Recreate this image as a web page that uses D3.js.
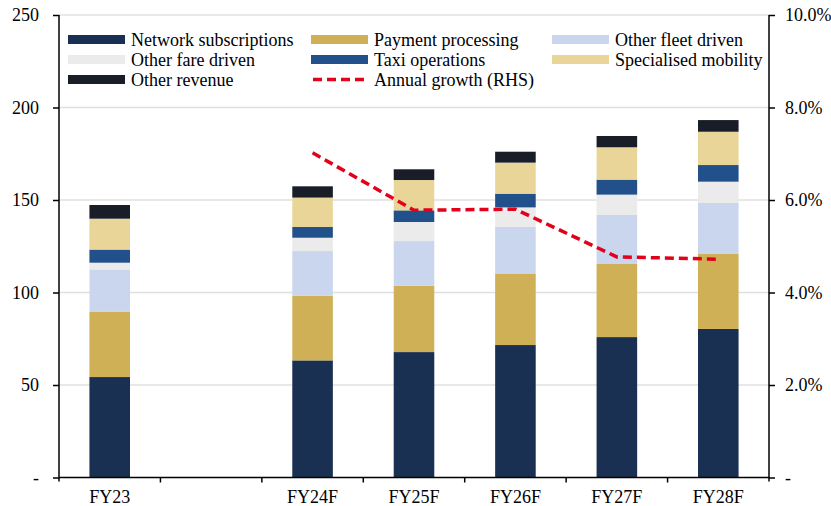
<!DOCTYPE html>
<html>
<head>
<meta charset="utf-8">
<script src="https://cdn.jsdelivr.net/npm/d3@7"></script>
<style>
  html, body { margin: 0; padding: 0; background: #ffffff; }
  svg { display: block; }
  svg text { font-family: "Liberation Serif", "Times New Roman", serif; }
</style>
</head>
<body>
<svg id="chart" width="831" height="506"></svg>
<script>
// ---- Data ----
const categories = ["FY23", " ", "FY24F", "FY25F", "FY26F", "FY27F", "FY28F"];
const seriesNames = ["Network subscriptions", "Payment processing", "Other fleet driven",
                     "Other fare driven", "Taxi operations", "Specialised mobility", "Other revenue"];
const networkSubscriptions = [54.3, null, 63.3, 67.8, 71.6, 75.9, 80.3];
const paymentProcessing    = [35.2, null, 35.0, 35.9, 38.4, 39.5, 40.5];
const otherFleetDriven     = [23.0, null, 24.1, 24.1, 25.4, 26.5, 27.6];
const otherFareDriven      = [3.6,  null, 7.2,  10.3, 10.6, 11.0, 11.5];
const taxiOperations       = [7.1,  null, 5.8,  6.3,  7.4,  8.1,  9.0];
const specialisedMobility  = [16.7, null, 15.9, 16.4, 16.8, 17.5, 18.0];
const otherRevenue         = [7.4,  null, 6.1,  5.8,  5.9,  6.1,  6.3];
const growthName = "Annual growth (RHS)";
const annualGrowth         = [null, null, 7.02, 5.78, 5.80, 4.77, 4.72]; // % (RHS)
const leftTicks  = [0, 50, 100, 150, 200, 250];
const rightTicks = [0, 2, 4, 6, 8, 10];
const colors = ["#1a3052", "#cfb056", "#cad6ee", "#ebebeb", "#22508a", "#e8d597", "#181d27"];
const growthColor = "#e3001b";

const seriesValues = [networkSubscriptions, paymentProcessing, otherFleetDriven,
                      otherFareDriven, taxiOperations, specialisedMobility, otherRevenue];

// ---- Layout ----
const svg = d3.select("#chart");
const L = 59, R = 769, T = 15, B = 477.5;
const FS = 18;

const x = d3.scaleBand().domain(categories).range([L, R]).paddingInner(0.6).paddingOuter(0.3);
const y = d3.scaleLinear().domain([0, 250]).range([B, T]);
const y2 = d3.scaleLinear().domain([0, 10]).range([B, T]);

// gridlines
svg.append("g").selectAll("line").data(leftTicks.filter(d => d > 0)).join("line")
  .attr("x1", L).attr("x2", R)
  .attr("y1", d => y(d)).attr("y2", d => y(d))
  .attr("stroke", "#e0e0e0").attr("stroke-width", 1.3);

// stacked bars
const table = categories.map((c, i) => {
  const o = { cat: c };
  seriesNames.forEach((s, k) => { o[s] = seriesValues[k][i] || 0; });
  return o;
});
const stack = d3.stack().keys(seriesNames)(table);
svg.append("g").selectAll("g").data(stack).join("g")
  .attr("fill", (d, i) => colors[i])
  .selectAll("rect").data(d => d.filter(p => p[1] - p[0] > 0)).join("rect")
  .attr("x", d => x(d.data.cat))
  .attr("width", x.bandwidth())
  .attr("y", d => y(d[1]))
  .attr("height", d => y(d[0]) - y(d[1]));

// growth line
const linePts = categories.map((c, i) => ({ c, v: annualGrowth[i] })).filter(d => d.v != null);
svg.append("path").datum(linePts)
  .attr("fill", "none").attr("stroke", growthColor).attr("stroke-width", 3.5)
  .attr("stroke-dasharray", "9,5")
  .attr("d", d3.line().x(d => x(d.c) + x.bandwidth() / 2).y(d => y2(d.v)));

// left axis
const yAxis = d3.axisLeft(y).tickValues(leftTicks).tickSize(6).tickPadding(14)
  .tickFormat(d => d === 0 ? "-" : d3.format("d")(d));
const gy = svg.append("g").attr("transform", `translate(${L},0)`).call(yAxis);
gy.attr("font-family", null);
gy.select(".domain").attr("d", `M0,${B + 4}V${T}`).attr("stroke", "#000").attr("stroke-width", 1.5);
gy.selectAll(".tick line").attr("stroke", "#000").attr("stroke-width", 1.5);
gy.selectAll(".tick text").attr("font-size", FS).attr("fill", "#000");

// right axis
const y2Axis = d3.axisRight(y2).tickValues(rightTicks).tickSize(6).tickPadding(10)
  .tickFormat(d => d === 0 ? "-" : d3.format(".1f")(d) + "%");
const gy2 = svg.append("g").attr("transform", `translate(${R},0)`).call(y2Axis);
gy2.attr("font-family", null);
gy2.select(".domain").attr("d", `M0,${B + 4}V${T}`).attr("stroke", "#000").attr("stroke-width", 1.5);
gy2.selectAll(".tick line").attr("stroke", "#000").attr("stroke-width", 1.5);
gy2.selectAll(".tick text").attr("font-size", FS).attr("fill", "#000");

// bottom axis: labels at band centres, ticks at band boundaries
const xAxis = d3.axisBottom(x).tickSize(0).tickPadding(13);
const gx = svg.append("g").attr("transform", `translate(0,${B})`).call(xAxis);
gx.attr("font-family", null);
gx.select(".domain").attr("d", `M${L},0H${R}`).attr("stroke", "#000").attr("stroke-width", 1.5);
gx.selectAll(".tick text").attr("font-size", FS).attr("fill", "#000");
const boundaries = d3.range(1, categories.length).map(i => L + x.step() * i);
gx.selectAll(".bnd").data(boundaries).join("line").attr("class", "bnd")
  .attr("x1", d => d).attr("x2", d => d).attr("y1", 0).attr("y2", 5)
  .attr("stroke", "#000").attr("stroke-width", 1.5);

// legend
const legendItems = seriesNames.map((n, i) => ({ name: n, color: colors[i], type: "bar" }));
legendItems.push({ name: growthName, color: growthColor, type: "line" });
const colX = [68, 311, 552];
const rowY = [39.5, 59.5, 79.5];
const lg = svg.append("g");
legendItems.forEach((it, i) => {
  const cx = colX[i % 3], cy = rowY[Math.floor(i / 3)];
  if (it.type === "bar") {
    lg.append("rect").attr("x", cx).attr("y", cy - 4.5).attr("width", 57).attr("height", 9).attr("fill", it.color);
  } else {
    lg.append("line").attr("x1", cx + 2).attr("x2", cx + 57).attr("y1", cy).attr("y2", cy)
      .attr("stroke", it.color).attr("stroke-width", 3.5).attr("stroke-dasharray", "9,5");
  }
  lg.append("text").attr("x", cx + 63).attr("y", cy).attr("dy", "0.35em")
    .attr("font-size", FS).attr("fill", "#000").text(it.name);
});
</script>
</body>
</html>
